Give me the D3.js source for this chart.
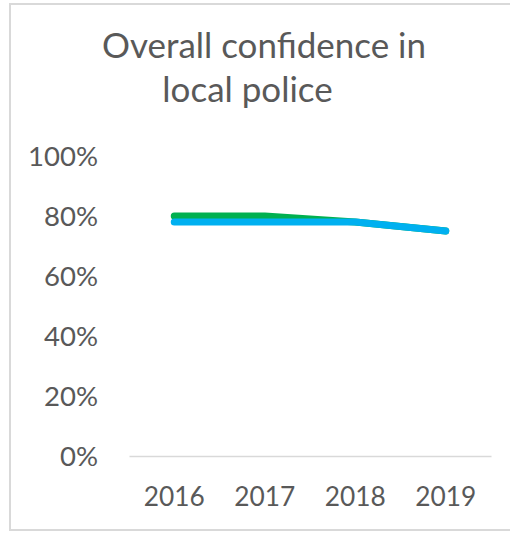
<!DOCTYPE html>
<html>
<head>
<meta charset="utf-8">
<script src="https://cdn.jsdelivr.net/npm/d3@7"></script>
<style>
  html, body { margin: 0; padding: 0; background: #fff; overflow: hidden; }
  svg { display: block; }
  text { font-family: Lato, "Open Sans", sans-serif; fill: #595959; }
</style>
</head>
<body>
<svg id="chart" width="510" height="533"></svg>
<script>
// ---- data ----
const titleLines = ["Overall confidence in", "local police"];
const years = ["2016", "2017", "2018", "2019"];
const series1Values = [0.80, 0.80, 0.78, 0.75]; // green
const series2Values = [0.78, 0.78, 0.78, 0.75]; // blue
const yTickValues = [0, 0.2, 0.4, 0.6, 0.8, 1.0];

const svg = d3.select("#chart");

// frame
svg.append("rect")
  .attr("x", 10).attr("y", 4)
  .attr("width", 530).attr("height", 526)
  .attr("fill", "#fff")
  .attr("stroke", "#d9d9d9").attr("stroke-width", 2);

function fitText(sel, targetWidth, base) {
  sel.style("font-size", base + "px");
  const w = sel.node().getComputedTextLength();
  const fs = base * targetWidth / w;
  sel.style("font-size", fs.toFixed(2) + "px");
  return fs;
}

// title
const t1 = svg.append("text").attr("x", 264).attr("y", 58)
  .attr("text-anchor", "middle").text(titleLines[0]);
const titleFs = fitText(t1, 324, 30);
svg.append("text").attr("x", 247.5).attr("y", 101.5)
  .attr("text-anchor", "middle").style("font-size", titleFs.toFixed(2) + "px")
  .text(titleLines[1]);

// scales
const x = d3.scaleBand().domain(years).range([129, 491]);
const y = d3.scaleLinear().domain([0, 1]).range([456, 156]);

// y axis (labels only)
const yAxisG = svg.append("g").attr("transform", "translate(98,0)")
  .call(d3.axisLeft(y).tickValues(yTickValues).tickFormat(d3.format(".0%"))
        .tickSize(0).tickPadding(0));
yAxisG.select(".domain").remove();
yAxisG.selectAll("text").attr("dy", "0.36em").attr("fill", "#595959")
  .style("font-family", "Lato, 'Open Sans', sans-serif");
// fit font size using widest label
let yFs = 26;
yAxisG.selectAll("text").each(function(d) {
  if (d === 1) yFs = fitText(d3.select(this), 70, 26);
});
yAxisG.selectAll("text").style("font-size", yFs.toFixed(2) + "px");

// x axis
const xAxisG = svg.append("g").attr("transform", "translate(0,456)")
  .call(d3.axisBottom(x).tickSize(0).tickSizeOuter(0).tickPadding(0));
xAxisG.select(".domain").attr("stroke", "#d9d9d9").attr("stroke-width", 1.5);
xAxisG.selectAll("text").attr("y", 41).attr("dy", "0.36em").attr("fill", "#595959")
  .style("font-family", "Lato, 'Open Sans', sans-serif");
let xFs = 26;
xAxisG.selectAll("text").each(function(d, i) {
  if (i === 0) xFs = fitText(d3.select(this), 61, 26);
});
xAxisG.selectAll("text").style("font-size", xFs.toFixed(2) + "px");

// lines
const line = d3.line()
  .x((d, i) => x(years[i]) + x.bandwidth() / 2)
  .y(d => y(d));

svg.append("path").datum(series1Values)
  .attr("d", line).attr("fill", "none")
  .attr("stroke", "#00b050").attr("stroke-width", 7)
  .attr("stroke-linecap", "round").attr("stroke-linejoin", "round");
svg.append("path").datum(series2Values)
  .attr("d", line).attr("fill", "none")
  .attr("stroke", "#00b0f0").attr("stroke-width", 7)
  .attr("stroke-linecap", "round").attr("stroke-linejoin", "round");
</script>
</body>
</html>
